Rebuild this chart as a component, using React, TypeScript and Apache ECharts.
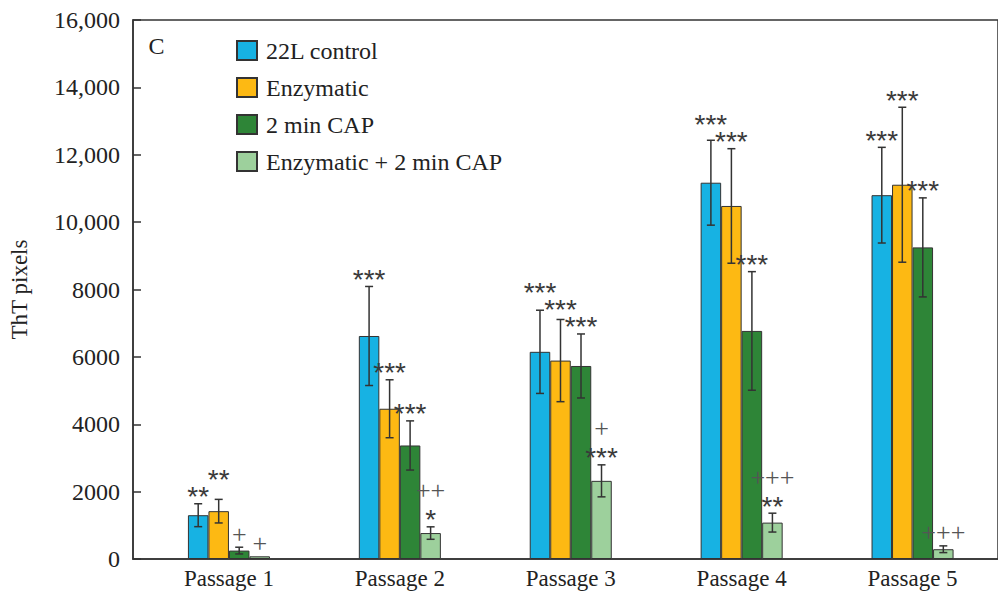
import React, { useEffect, useRef } from 'react';
import * as echarts from 'echarts';

const categories = ['Passage 1', 'Passage 2', 'Passage 3', 'Passage 4', 'Passage 5'];
const seriesNames = ['22L control', 'Enzymatic', '2 min CAP', 'Enzymatic + 2 min CAP'];

const control = [1300, 6620, 6150, 11170, 10800];
const controlErr = [340, 1470, 1235, 1260, 1420];
const enzymatic = [1420, 4460, 5890, 10480, 11110];
const enzymaticErr = [350, 860, 1220, 1700, 2300];
const cap = [250, 3370, 5730, 6770, 9250];
const capErr = [100, 730, 950, 1760, 1470];
const enzCap = [80, 770, 2320, 1080, 290];
const enzCapErr = [0, 185, 475, 280, 100];

const controlSig = ['**', '***', '***', '***', '***'];
const enzymaticSig = ['**', '***', '***', '***', '***'];
const capSig = ['+', '***', '***', '***', '***'];
const enzCapSig = ['+', '++\n*', '+\n***', '+++\n**', '+++'];

const yTicks = [0, 2000, 4000, 6000, 8000, 10000, 12000, 14000, 16000];

const values = [control, enzymatic, cap, enzCap];
const errs = [controlErr, enzymaticErr, capErr, enzCapErr];
const sigs = [controlSig, enzymaticSig, capSig, enzCapSig];
const colors = ['#17b2e3', '#fdb913', '#2e8537', '#9dd09c'];

const SERIF = '"Liberation Serif", "Times New Roman", serif';
const GAP = 0.52;
const LABEL_GAP = 13;
const MIN_SEP = 17;
const LINE_H = 23;

function lineWidth(t: string) {
  let w = 0;
  for (const ch of t) w += ch === '*' ? 11 : 13;
  return w;
}

const renderItem = (params: any, api: any) => {
  const c = api.value(0);
  const base = api.coord([c, 0]);
  const center = base[0];
  const band = api.size([1, 0])[0];
  const bw = (band * (1 - GAP)) / 4;
  const children: any[] = [];
  const labels: any[] = [];
  for (let s = 0; s < 4; s++) {
    const x = center + (s - 1.5) * bw;
    const v = values[s][c];
    const e = errs[s][c];
    const yTop = api.coord([c, v + e])[1];
    const yBot = api.coord([c, v - e])[1];
    if (e > 0) {
      const ls = { stroke: '#333', lineWidth: 1.5 };
      children.push({ type: 'line', shape: { x1: x, y1: yTop, x2: x, y2: yBot }, style: ls });
      children.push({ type: 'line', shape: { x1: x - 4, y1: yTop, x2: x + 4, y2: yTop }, style: ls });
      children.push({ type: 'line', shape: { x1: x - 4, y1: yBot, x2: x + 4, y2: yBot }, style: ls });
    }
    const lines = sigs[s][c] ? sigs[s][c].split('\n') : [];
    if (lines.length) {
      labels.push({
        s,
        x,
        anchor: yTop,
        lines,
        w: Math.max(...lines.map(lineWidth)),
        y: 0,
        placed: false,
      });
    }
  }
  const order = [...labels].sort((a, b) => b.anchor - a.anchor);
  for (const L of order) {
    let y = L.anchor - LABEL_GAP;
    let changed = true;
    while (changed) {
      changed = false;
      for (const P of labels) {
        if (!P.placed || Math.abs(P.s - L.s) !== 1) continue;
        if ((P.w + L.w) / 2 <= bw * Math.abs(P.s - L.s)) continue;
        const pTop = P.y - (P.lines.length - 1) * LINE_H;
        const pBot = P.y;
        const lTop = y - (L.lines.length - 1) * LINE_H;
        if (y > pTop - MIN_SEP && lTop < pBot + MIN_SEP) {
          y = pTop - MIN_SEP;
          changed = true;
        }
      }
    }
    L.y = y;
    L.placed = true;
  }
  for (const L of labels) {
    const n = L.lines.length;
    L.lines.forEach((t: string, i: number) => {
      const isStar = t.includes('*');
      const yy = L.y - (n - 1 - i) * LINE_H;
      children.push({
        type: 'text',
        x: L.x,
        y: isStar ? yy + 6 : yy,
        style: {
          text: t,
          fill: isStar ? '#3a3a3a' : '#555',
          font: isStar ? '28px "Liberation Sans", Arial, sans-serif' : `26px ${SERIF}`,
          align: 'center',
          verticalAlign: 'middle',
        },
      });
    });
  }
  return { type: 'group', children };
};

export default function App() {
  const ref = useRef<HTMLDivElement>(null);
  useEffect(() => {
    const chart = echarts.init(ref.current!, null, { renderer: 'svg' });
    const barSeries = seriesNames.map((name, s) => ({
      name,
      type: 'bar',
      xAxisIndex: 1,
      yAxisIndex: 1,
      data: values[s],
      barGap: '0%',
      barCategoryGap: `${GAP * 100}%`,
      itemStyle: { color: colors[s], borderColor: '#333', borderWidth: 1 },
      silent: true,
    }));
    chart.setOption({
      animation: false,
      backgroundColor: '#fff',
      textStyle: { fontFamily: SERIF },
      grid: [
        { left: 133, right: -8, top: 20, bottom: 35, show: true, borderColor: '#333', borderWidth: 1.5, backgroundColor: 'transparent' },
        { left: 143.5, right: -18.5, top: 20, bottom: 35 },
      ],
      legend: {
        data: seriesNames,
        orient: 'vertical',
        left: 236,
        top: 38.5,
        padding: 0,
        itemWidth: 20,
        itemHeight: 19,
        itemGap: 13,
        icon: 'rect',
        textStyle: { fontFamily: SERIF, fontSize: 24, color: '#222', padding: [0, 0, 0, 4] },
        selectedMode: false,
      },
      xAxis: [
        {
          gridIndex: 0,
          type: 'category',
          data: categories,
          axisLine: { lineStyle: { color: '#333', width: 1.5 } },
          axisTick: { inside: true, length: 8, lineStyle: { color: '#333', width: 1.5 } },
          axisLabel: { show: false },
        },
        {
          gridIndex: 1,
          type: 'category',
          data: categories,
          axisLine: { show: false },
          axisTick: { show: false },
          axisLabel: { fontFamily: SERIF, fontSize: 23, color: '#222', margin: 8 },
        },
      ],
      yAxis: [
        {
          gridIndex: 0,
          type: 'value',
          min: yTicks[0],
          max: yTicks[yTicks.length - 1],
          interval: yTicks[1] - yTicks[0],
          name: 'ThT pixels',
          nameLocation: 'middle',
          nameGap: 102,
          nameTextStyle: { fontFamily: SERIF, fontSize: 23, color: '#222' },
          axisLine: { show: true, lineStyle: { color: '#333', width: 1.5 } },
          axisTick: { show: true, inside: true, length: 8, lineStyle: { color: '#333', width: 1.5 } },
          splitLine: { show: false },
          axisLabel: {
            fontFamily: SERIF,
            fontSize: 24,
            color: '#222',
            margin: 13,
            formatter: (v: number) => (v >= 10000 ? v.toLocaleString('en-US') : String(v)),
          },
        },
        {
          gridIndex: 1,
          type: 'value',
          min: yTicks[0],
          max: yTicks[yTicks.length - 1],
          interval: yTicks[1] - yTicks[0],
          show: false,
        },
      ],
      graphic: [
        {
          type: 'text',
          x: 156.5,
          y: 46,
          style: { text: 'C', font: `24px ${SERIF}`, fill: '#222', align: 'center', verticalAlign: 'middle' },
        },
      ],
      series: [
        ...barSeries,
        {
          type: 'custom',
          xAxisIndex: 1,
          yAxisIndex: 1,
          data: categories.map((_, i) => [i, 0]),
          renderItem,
          clip: false,
          silent: true,
          z: 10,
        },
      ],
    });
    return () => chart.dispose();
  }, []);
  return (
    <div
      ref={ref}
      style={{ position: 'fixed', left: 0, top: 0, width: 998, height: 594, background: '#fff' }}
    />
  );
}
